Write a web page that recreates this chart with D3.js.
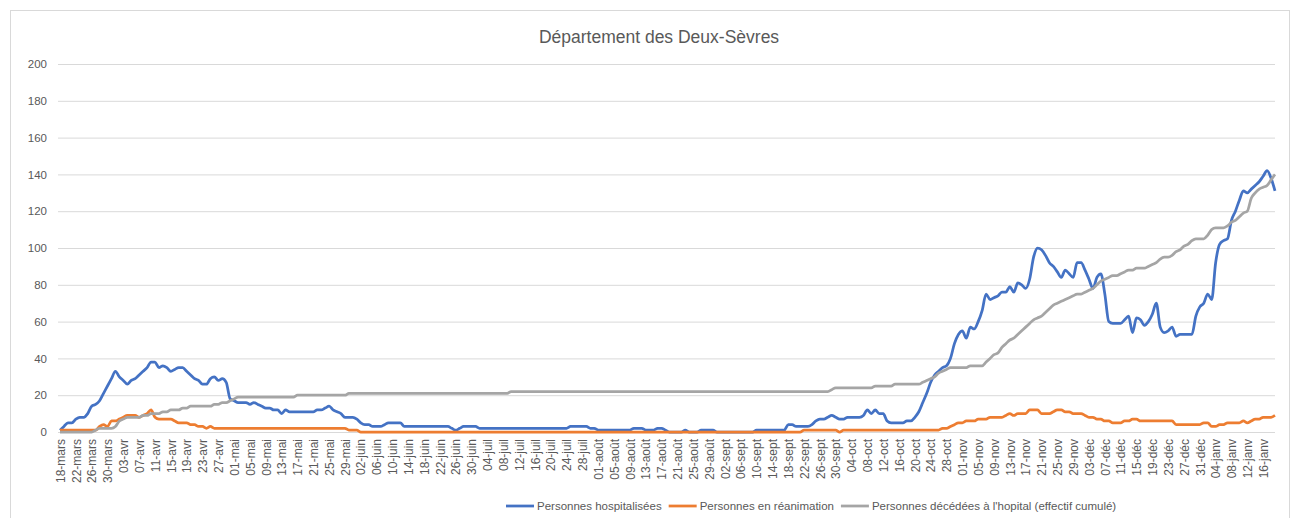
<!DOCTYPE html>
<meta charset="utf-8">
<html lang="fr">
<head>
<title>Département des Deux-Sèvres</title>
<style>
  html, body { margin: 0; padding: 0; background: #fff; }
  svg text { font-family: "Liberation Sans", Arial, sans-serif; fill: #595959; }
</style>
</head>
<body>
<div id="chart"></div>
<script src="https://d3js.org/d3.v7.min.js"></script>
<script>
// first day of the series, one value per day after that
const startDate = new Date(2020, 2, 18);
const monthNames = ["janv", "févr", "mars", "avr", "mai", "juin", "juil", "août", "sept", "oct", "nov", "déc"];
const yTicks = [0, 20, 40, 60, 80, 100, 120, 140, 160, 180, 200];

// Personnes hospitalisées (18 mars 2020 -> 19 janv 2021)
const hospitalises = [
  1, 3, 5, 5, 7, 8, 8, 10, 14, 15, 17, 21, 25, 29,                                   // mars
  33, 30, 28, 26, 28, 29, 31, 33, 35, 38, 38, 35, 36, 35, 33, 34, 35, 35, 33, 31,
  29, 28, 26, 26, 29, 30, 28, 29, 27, 18,                                             // avr
  17, 16, 16, 16, 15, 16, 15, 14, 13, 13, 12, 12, 10, 12, 11, 11, 11, 11, 11, 11,
  11, 12, 12, 13, 14, 12, 11, 10, 8, 8, 8,                                            // mai
  7, 5, 4, 4, 3, 3, 3, 4, 5, 5, 5, 5, 3, 3, 3, 3, 3, 3, 3, 3,
  3, 3, 3, 3, 2, 1, 2, 3, 3, 3,                                                       // juin
  3, 2, 2, 2, 2, 2, 2, 2, 2, 2, 2, 2, 2, 2, 2, 2, 2, 2, 2, 2,
  2, 2, 2, 2, 3, 3, 3, 3, 3, 2, 2,                                                    // juil
  1, 1, 1, 1, 1, 1, 1, 1, 1, 2, 2, 2, 1, 1, 1, 2, 2, 1, 0, 0,
  0, 0, 1, 0, 0, 0, 1, 1, 1, 1, 0,                                                    // août
  0, 0, 0, 0, 0, 0, 0, 0, 0, 1, 1, 1, 1, 1, 1, 1, 1, 4, 4, 3,
  3, 3, 3, 4, 6, 7, 7, 8, 9, 8,                                                       // sept
  7, 7, 8, 8, 8, 8, 9, 12, 10, 12, 10, 10, 6, 5, 5, 5, 5, 6, 6, 8,
  11, 16, 21, 27, 31, 33, 35, 36, 40, 48, 53,                                         // oct
  55, 51, 57, 56, 60, 66, 75, 72, 73, 74, 76, 76, 79, 76, 81, 80, 78, 83, 95, 100,
  99, 96, 92, 90, 87, 84, 88, 86, 84, 92,                                             // nov
  92, 88, 83, 78, 84, 86, 75, 60, 59, 59, 59, 61, 63, 54, 62, 61, 58, 60, 64, 70,
  57, 54, 55, 57, 52, 53, 53, 53, 53, 63, 68,                                         // déc
  70, 75, 72, 92, 102, 104, 105, 115, 120, 126, 131, 130, 132, 134, 136, 139, 142, 138, 131 // janv
];

// Personnes en réanimation
const reanimation = [
  1, 1, 1, 1, 1, 1, 1, 1, 1, 1, 3, 4, 3, 6,
  6, 7, 8, 9, 9, 9, 8, 9, 10, 12, 8, 7, 7, 7, 7, 6, 5, 5, 5, 4,
  4, 3, 3, 2, 3, 2, 2, 2, 2, 2,
  2, 2, 2, 2, 2, 2, 2, 2, 2, 2, 2, 2, 2, 2, 2, 2, 2, 2, 2, 2,
  2, 2, 2, 2, 2, 2, 2, 2, 2, 1, 1,
  1, 0, 0, 0, 0, 0, 0, 0, 0, 0, 0, 0, 0, 0, 0, 0, 0, 0, 0, 0,
  0, 0, 0, 0, 0, 0, 0, 0, 0, 0,
  0, 0, 0, 0, 0, 0, 0, 0, 0, 0, 0, 0, 0, 0, 0, 0, 0, 0, 0, 0,
  0, 0, 0, 0, 0, 0, 0, 0, 0, 0, 0,
  0, 0, 0, 0, 0, 0, 0, 0, 0, 0, 0, 0, 0, 0, 0, 0, 0, 0, 0, 0,
  0, 0, 0, 0, 0, 0, 0, 0, 0, 0, 0,
  0, 0, 0, 0, 0, 0, 0, 0, 0, 0, 0, 0, 0, 0, 0, 0, 0, 0, 0, 0,
  0, 1, 1, 1, 1, 1, 1, 1, 1, 1,
  0, 1, 1, 1, 1, 1, 1, 1, 1, 1, 1, 1, 1, 1, 1, 1, 1, 1, 1, 1,
  1, 1, 1, 1, 1, 1, 2, 2, 3, 4, 5,
  5, 6, 6, 6, 7, 7, 7, 8, 8, 8, 8, 9, 10, 9, 10, 10, 10, 12, 12, 12,
  10, 10, 10, 11, 12, 12, 11, 11, 10, 10,
  10, 9, 8, 8, 7, 7, 6, 6, 5, 5, 5, 6, 6, 7, 7, 6, 6, 6, 6, 6,
  6, 6, 6, 6, 4, 4, 4, 4, 4, 4, 4,
  5, 5, 3, 3, 4, 4, 5, 5, 5, 5, 6, 5, 6, 7, 7, 8, 8, 8, 9
];

// Personnes décédées à l'hopital (effectif cumulé)
const deces = [
  0, 0, 0, 0, 0, 0, 0, 0, 0, 1, 2, 2, 2, 2,
  3, 6, 7, 8, 8, 8, 8, 9, 9, 10, 10, 10, 11, 11, 12, 12, 12, 13, 13, 14,
  14, 14, 14, 14, 14, 15, 15, 16, 16, 17,
  18, 19, 19, 19, 19, 19, 19, 19, 19, 19, 19, 19, 19, 19, 19, 19, 20, 20, 20, 20,
  20, 20, 20, 20, 20, 20, 20, 20, 20, 21, 21,
  21, 21, 21, 21, 21, 21, 21, 21, 21, 21, 21, 21, 21, 21, 21, 21, 21, 21, 21, 21,
  21, 21, 21, 21, 21, 21, 21, 21, 21, 21,
  21, 21, 21, 21, 21, 21, 21, 21, 21, 22, 22, 22, 22, 22, 22, 22, 22, 22, 22, 22,
  22, 22, 22, 22, 22, 22, 22, 22, 22, 22, 22,
  22, 22, 22, 22, 22, 22, 22, 22, 22, 22, 22, 22, 22, 22, 22, 22, 22, 22, 22, 22,
  22, 22, 22, 22, 22, 22, 22, 22, 22, 22, 22,
  22, 22, 22, 22, 22, 22, 22, 22, 22, 22, 22, 22, 22, 22, 22, 22, 22, 22, 22, 22,
  22, 22, 22, 22, 22, 22, 22, 22, 23, 24,
  24, 24, 24, 24, 24, 24, 24, 24, 24, 25, 25, 25, 25, 25, 26, 26, 26, 26, 26, 26,
  26, 27, 28, 29, 30, 32, 33, 34, 35, 35, 35,
  35, 35, 36, 36, 36, 36, 38, 40, 42, 43, 46, 48, 50, 51, 53, 55, 57, 59, 61, 62,
  63, 65, 67, 69, 70, 71, 72, 73, 74, 75,
  75, 76, 77, 78, 80, 82, 83, 84, 85, 85, 86, 87, 88, 88, 89, 89, 89, 90, 91, 92,
  94, 95, 95, 96, 98, 99, 101, 102, 104, 105, 105,
  105, 107, 110, 111, 111, 111, 112, 114, 115, 117, 119, 120, 127, 130, 132, 133, 134, 137, 140
];

const seriesNames = ["Personnes hospitalisées", "Personnes en réanimation", "Personnes décédées à l'hopital (effectif cumulé)"];
const seriesColors = ["#4472C4", "#ED7D31", "#A5A5A5"];

const width = 1294, height = 518;
const margin = { top: 64, right: 19, bottom: 86, left: 60 };

const dates = hospitalises.map((d, i) => d3.timeDay.offset(startDate, i));
const series = [hospitalises, reanimation, deces].map((values, k) => ({
  name: seriesNames[k],
  color: seriesColors[k],
  values: values.map((v, i) => ({ date: dates[i], value: v }))
}));

const svg = d3.select("#chart").append("svg")
  .attr("width", width)
  .attr("height", height);

// chart frame
svg.append("rect")
  .attr("x", 10.5).attr("y", 10.5)
  .attr("width", 1279).attr("height", 510)
  .attr("fill", "#fff")
  .attr("stroke", "#d9d9d9");

svg.append("text")
  .attr("x", 659).attr("y", 43)
  .attr("text-anchor", "middle")
  .style("font-size", "17.5px")
  .text("Département des Deux-Sèvres");

const x = d3.scaleTime()
  .domain([dates[0], dates[dates.length - 1]])
  .range([margin.left, width - margin.right]);

const y = d3.scaleLinear()
  .domain([0, 200])
  .range([height - margin.bottom, margin.top]);

// gridlines + y labels
const yAxis = svg.append("g")
  .attr("transform", "translate(" + (margin.left - 2) + ",0)")
  .call(d3.axisLeft(y).tickValues(yTicks).tickSize(-(width - margin.right - margin.left + 2)).tickPadding(11));
yAxis.select(".domain").remove();
yAxis.selectAll(".tick line").attr("stroke", "#d9d9d9");
yAxis.selectAll(".tick text").attr("fill", "#595959").style("font-size", "11.5px");

// x labels, every 4 days
const fmtDay = d3.timeFormat("%d");
const xAxis = svg.append("g")
  .attr("transform", "translate(0," + (height - margin.bottom) + ")")
  .call(d3.axisBottom(x)
    .tickValues(dates.filter((d, i) => i % 4 === 0))
    .tickSize(0)
    .tickFormat(d => fmtDay(d) + "-" + monthNames[d.getMonth()]));
xAxis.select(".domain").remove();
xAxis.selectAll(".tick text")
  .attr("fill", "#595959")
  .style("font-size", "12px")
  .attr("text-anchor", "end")
  .attr("transform", "rotate(-90)")
  .attr("x", -7)
  .attr("y", 0)
  .attr("dy", "0.35em");

const line = d3.line()
  .curve(d3.curveMonotoneX)
  .x(d => x(d.date))
  .y(d => y(d.value));

svg.append("g").selectAll("path")
  .data(series)
  .join("path")
  .attr("fill", "none")
  .attr("stroke", d => d.color)
  .attr("stroke-width", 2.75)
  .attr("stroke-linejoin", "round")
  .attr("d", d => line(d.values));

// legend
const legend = svg.append("g").attr("transform", "translate(506,506)");
let lx = 0;
series.forEach(s => {
  const item = legend.append("g").attr("transform", "translate(" + lx + ",0)");
  item.append("line")
    .attr("x1", 0).attr("x2", 28)
    .attr("stroke", s.color)
    .attr("stroke-width", 2.75);
  const t = item.append("text")
    .attr("x", 31)
    .attr("dy", "0.35em")
    .style("font-size", "11.5px")
    .text(s.name);
  lx += 31 + t.node().getComputedTextLength() + 7;
});
</script>
</body>
</html>
